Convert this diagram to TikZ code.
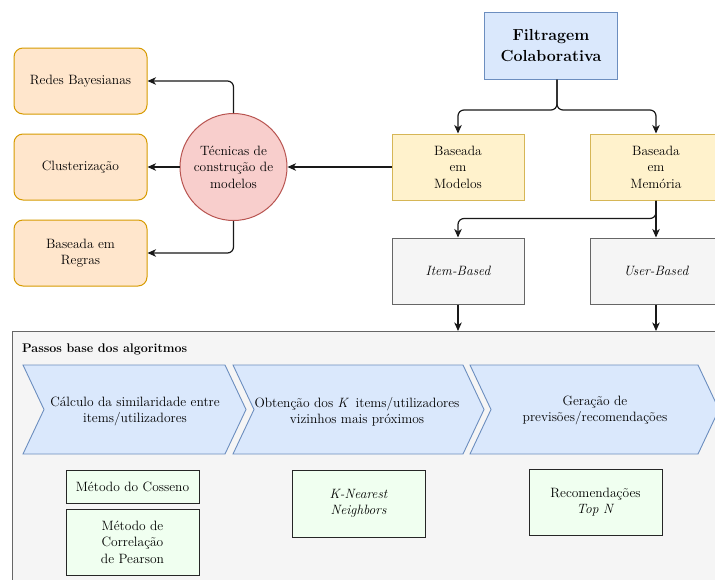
\documentclass[tikz,border=0pt]{standalone}
\usepackage{fontspec}
\usetikzlibrary{arrows.meta,calc}
\definecolor{bluef}{HTML}{DAE8FC}
\definecolor{blued}{HTML}{6C8EBF}
\definecolor{yelf}{HTML}{FFF2CC}
\definecolor{yeld}{HTML}{D6B656}
\definecolor{grayf}{HTML}{F5F5F5}
\definecolor{grayd}{HTML}{666666}
\definecolor{orf}{HTML}{FFE6CC}
\definecolor{ord}{HTML}{D79B00}
\definecolor{redf}{HTML}{F8CECC}
\definecolor{redd}{HTML}{B85450}
\definecolor{grnf}{HTML}{F0FFF0}
\tikzset{
  txt/.style={font=\rmfamily\fontsize{13.5}{16.4}\selectfont, align=center},
  box/.style={txt, draw, line width=1pt, minimum width=132pt, minimum height=66pt, inner sep=2pt},
  bluebox/.style={box, fill=bluef, draw=blued, minimum width=133pt, minimum height=67pt,
    font=\rmfamily\fontsize{16}{21}\selectfont\bfseries},
  yelbox/.style={box, fill=yelf, draw=yeld},
  graybox/.style={box, fill=grayf, draw=grayd, font=\rmfamily\fontsize{13.5}{16.4}\selectfont\itshape},
  orbox/.style={box, fill=orf, draw=ord, rounded corners=9pt, minimum width=133pt},
  techcircle/.style={txt, circle, draw=redd, fill=redf, line width=1pt, minimum size=107pt, inner sep=0pt},
  grnbox/.style={box, fill=grnf, draw=black!85, minimum width=133pt},
  chev/.style={fill=bluef, draw=blued, line width=0.9pt, line join=miter},
  conn/.style={draw=black!90, line width=1.2pt, -{Stealth[length=8.5pt,width=7.5pt,inset=2.5pt]}},
}
\begin{document}
\begin{tikzpicture}[x=1pt,y=-1pt]
\useasboundingbox (0,0) rectangle (715,579);
\clip (0,0) rectangle (715,579);
\fill[white] (0,0) rectangle (715,579);

% container
\node[draw=grayd, fill=grayf, line width=1pt, minimum width=728pt, minimum height=290pt,
  inner sep=0pt, anchor=north west] (cont) at (12,331) {};
\node[txt, font=\rmfamily\fontsize{12.5}{16}\selectfont\bfseries, anchor=west, inner sep=0pt] (title) at (22,349) {Passos base dos algoritmos};

% top nodes
\node[bluebox] (filt) at (551,45.5) {Filtragem\\Colaborativa};
\node[yelbox] (mod) at (458,167) {Baseada\\em\\Modelos};
\node[yelbox] (mem) at (656,167) {Baseada\\em\\Memória};
\node[graybox] (item) at (458,271) {Item-Based};
\node[graybox] (user) at (656,271) {User-Based};

\node[techcircle] (tec) at (233.5,167) {Técnicas de\\construção de\\modelos};
\node[orbox] (redes) at (80.5,81) {Redes Bayesianas};
\node[orbox] (clus) at (80.5,167) {Clusterização};
\node[orbox] (regras) at (80.5,253) {Baseada em\\Regras};

% connectors
\coordinate (fo) at ($(filt.south)+(6,0)$);
\draw[conn, rounded corners=6pt] (fo) -- (fo |- 0,110) -| (mod.north);
\draw[conn, rounded corners=6pt] (fo) -- (fo |- 0,110) -| (mem.north);
\draw[conn] (mem.south) -- (user.north);
\draw[conn, rounded corners=6pt] (mem.south) -- ($(mem.south)+(0,18)$) -| (item.north);
\draw[conn] (item.south) -- (item.south |- cont.north);
\draw[conn] (user.south) -- (user.south |- cont.north);
\draw[conn] (mod.west) -- (tec.east);
\draw[conn] (tec.west) -- (clus.east);
\draw[conn, rounded corners=6pt] (tec.north) |- (redes.east);
\draw[conn, rounded corners=6pt] (tec.south) |- (regras.east);

% chevrons
\path[chev] (23,365) -- (225,365) -- (246,409.5) -- (225,454) -- (23,454) -- (44,409.5) -- cycle;
\path[chev] (233,365) -- (463,365) -- (484,409.5) -- (463,454) -- (233,454) -- (254,409.5) -- cycle;
\path[chev] (470,365) -- (698,365) -- (719,409.5) -- (698,454) -- (470,454) -- (491,409.5) -- cycle;
\node[txt] (ch1) at (135,411.5) {Cálculo da similaridade entre\\items/utilizadores};
\node[txt] (ch2) at (357,411.5) {Obtenção dos \textit{K}\, items/utilizadores\\vizinhos mais próximos};
\node[txt] (ch3) at (595,410.5) {Geração de\\previsões/recomendações};

% method boxes
\node[grnbox, minimum height=33pt] (cos) at (132.5,486.5) {Método do Cosseno};
\node[grnbox] (pear) at (132.5,542) {Método de\\Correlação\\de Pearson};
\node[grnbox, minimum height=67pt, font=\rmfamily\fontsize{13.5}{16.4}\selectfont\itshape] (knn) at (358.5,503.5) {K-Nearest\\Neighbors};
\node[grnbox] (topn) at (595.5,502) {Recomendações\\\textit{Top N}};
\end{tikzpicture}
\end{document}
